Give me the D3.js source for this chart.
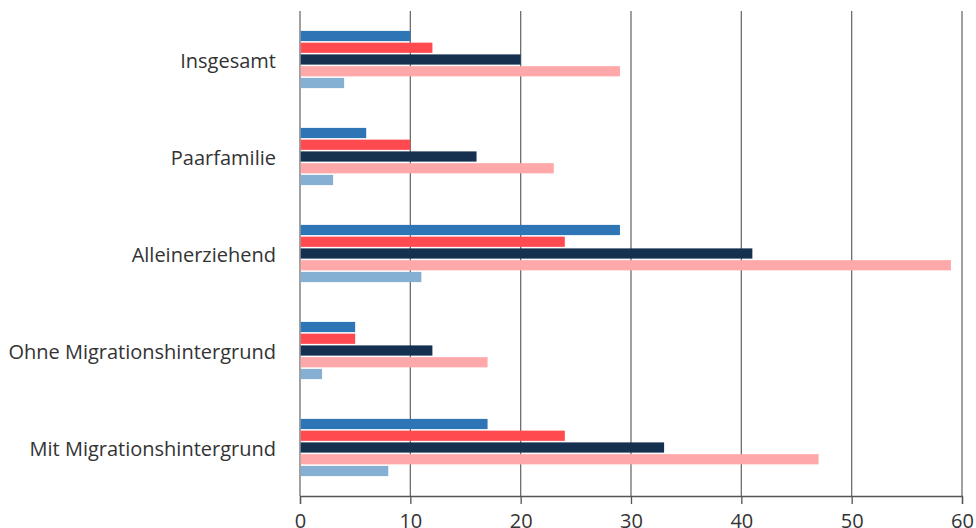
<!DOCTYPE html>
<html><head><meta charset="utf-8">
<script src="https://cdn.jsdelivr.net/npm/d3@7"></script>
<style>body{margin:0;background:#fff;} svg{display:block;}</style>
</head><body>
<svg id="c" width="976" height="528"></svg>
<script>
const categories = ["Insgesamt","Paarfamilie","Alleinerziehend","Ohne Migrationshintergrund","Mit Migrationshintergrund"];
const seriesNames = ["S1","S2","S3","S4","S5"];
const s1 = [10, 6, 29, 5, 17];
const s2 = [12, 10, 24, 5, 24];
const s3 = [20, 16, 41, 12, 33];
const s4 = [29, 23, 59, 17, 47];
const s5 = [4, 3, 11, 2, 8];
const seriesValues = [s1, s2, s3, s4, s5];
const colors = ["#2e75b6","#ff4a4f","#163150","#ffa8aa","#85afd3"];
const xTicks = [0,10,20,30,40,50,60];

const svg = d3.select("#c");
const x = d3.scaleLinear().domain([0,60]).range([300,962]);
const y0 = d3.scaleBand().domain(categories).range([11,496]).paddingInner(0.41).paddingOuter(0.205);
const y1 = d3.scaleBand().domain(seriesNames).range([0,y0.bandwidth()]).paddingInner(0.13);

// gridlines
svg.append("g").selectAll("line").data(xTicks).join("line")
  .attr("x1",d=>x(d)).attr("x2",d=>x(d)).attr("y1",11).attr("y2",496)
  .attr("stroke","#6e6e6e").attr("stroke-width",1.3);

// bars
const g = svg.append("g");
categories.forEach((c,i)=>{
  seriesNames.forEach((s,j)=>{
    g.append("rect")
      .attr("x",x(0)+0.7)
      .attr("y",y0(c)+y1(s))
      .attr("width",x(seriesValues[j][i])-x(0)-0.7)
      .attr("height",y1.bandwidth())
      .attr("fill",colors[j]);
  });
});

// x axis
const ax = svg.append("g").attr("transform","translate(0,496)")
  .call(d3.axisBottom(x).tickValues(xTicks).tickSize(8).tickPadding(10).tickFormat(d3.format("d")));
ax.select(".domain").attr("stroke","#555").attr("stroke-width",1.3);
ax.selectAll(".tick line").attr("stroke","#555").attr("stroke-width",1.3);
ax.selectAll("text").attr("font-family","'Open Sans', 'Noto Sans', sans-serif").attr("font-size",20).attr("fill","#333");

// category labels
svg.append("g").selectAll("text").data(categories).join("text")
  .attr("x",276).attr("y",d=>y0(d)+y0.bandwidth()/2+1.5)
  .attr("dy","0.35em").attr("text-anchor","end")
  .attr("font-family","'Open Sans', 'Noto Sans', sans-serif").attr("font-size",20).attr("fill","#333")
  .text(d=>d);
</script>
</body></html>
